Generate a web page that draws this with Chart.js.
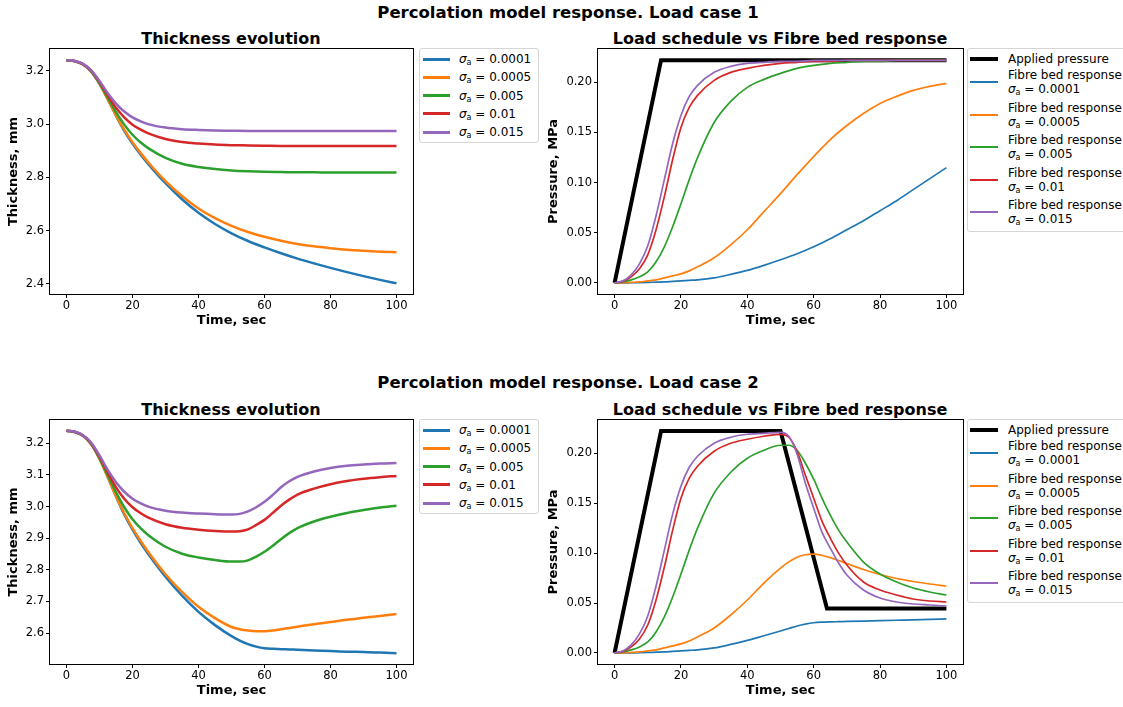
<!DOCTYPE html>
<html>
<head>
<meta charset="utf-8">
<script src="https://cdn.jsdelivr.net/npm/chart.js@4.4.1/dist/chart.umd.min.js"></script>
<style>
  html, body { margin: 0; padding: 0; background: #fff; overflow: hidden; }
  #page { position: relative; width: 1123px; height: 707px; overflow: hidden; font-family: "DejaVu Sans", sans-serif; color: #000; }
  canvas { position: absolute; }
  .suptitle, .title { position: absolute; font-weight: bold; white-space: nowrap; transform: translateX(-50%); line-height: 20px; }
  .suptitle { font-size: 16.5px; }
  .title { font-size: 16px; }
  .legend { position: absolute; background: #fff; border: 1px solid #d6d6d6; border-radius: 3px; box-sizing: border-box; }
  .entry { position: absolute; font-size: 12px; line-height: 14px; white-space: nowrap; }
  .handle { position: absolute; }
  sub { font-size: 8px; vertical-align: -2px; line-height: 0; }
</style>
</head>
<body>
<div id="page">
  <div class="suptitle" style="left:568px; top:3px;">Percolation model response. Load case 1</div>
  <div class="title" style="left:231px; top:29px;">Thickness evolution</div>
  <div class="title" style="left:780px; top:29px;">Load schedule vs Fibre bed response</div>
  <canvas id="thick1" width="415" height="293" style="left:0px; top:39px;"></canvas>
  <canvas id="load1" width="425" height="293" style="left:540px; top:39px;"></canvas>

  <div class="suptitle" style="left:568px; top:373px;">Percolation model response. Load case 2</div>
  <div class="title" style="left:231px; top:400px;">Thickness evolution</div>
  <div class="title" style="left:780px; top:400px;">Load schedule vs Fibre bed response</div>
  <canvas id="thick2" width="415" height="292" style="left:0px; top:410px;"></canvas>
  <canvas id="load2" width="425" height="292" style="left:540px; top:410px;"></canvas>
</div>
<script>
// Series labels and colours
const sigmaValues = ['0.0001', '0.0005', '0.005', '0.01', '0.015'];
const seriesColors = ['#1f77b4', '#ff7f0e', '#2ca02c', '#d62728', '#9467bd'];
const timeTicks = [0, 20, 40, 60, 80, 100];
const thickTicks1 = [2.4, 2.6, 2.8, 3.0, 3.2];
const thickTicks2 = [2.6, 2.7, 2.8, 2.9, 3.0, 3.1, 3.2];
const pressureTicks = [0, 0.05, 0.10, 0.15, 0.20];

// Load case 1
const times1 = [0, 2.5, 5, 7.5, 10, 12.5, 15, 17.5, 20, 22.5, 25, 30, 35, 40, 45, 50, 55, 60, 65, 70, 75, 80, 85, 90, 95, 100];
const thick1_0001 = [3.24, 3.236, 3.224, 3.197, 3.152, 3.094, 3.032, 2.975, 2.927, 2.885, 2.847, 2.778, 2.718, 2.667, 2.625, 2.59, 2.561, 2.537, 2.515, 2.495, 2.477, 2.46, 2.444, 2.429, 2.415, 2.402];
const thick1_0005 = [3.24, 3.236, 3.224, 3.197, 3.151, 3.093, 3.033, 2.979, 2.932, 2.891, 2.853, 2.786, 2.73, 2.683, 2.647, 2.618, 2.595, 2.577, 2.562, 2.55, 2.541, 2.534, 2.528, 2.524, 2.521, 2.519];
const thick1_005 = [3.24, 3.236, 3.225, 3.198, 3.153, 3.099, 3.045, 2.998, 2.96, 2.931, 2.908, 2.873, 2.851, 2.839, 2.831, 2.826, 2.823, 2.821, 2.82, 2.819, 2.819, 2.818, 2.818, 2.818, 2.818, 2.818];
const thick1_01 = [3.24, 3.237, 3.225, 3.2, 3.158, 3.108, 3.061, 3.025, 2.998, 2.979, 2.964, 2.944, 2.933, 2.927, 2.923, 2.921, 2.92, 2.919, 2.918, 2.918, 2.918, 2.918, 2.918, 2.918, 2.918, 2.918];
const thick1_015 = [3.24, 3.237, 3.226, 3.202, 3.162, 3.116, 3.077, 3.047, 3.025, 3.01, 2.999, 2.987, 2.981, 2.978, 2.976, 2.975, 2.974, 2.974, 2.974, 2.974, 2.974, 2.974, 2.974, 2.974, 2.974, 2.974];

const appliedTime1 = [0, 14, 100];
const applied1 = [0, 0.2222, 0.2222];
const resp1_0001 = [0, 0, 0.0001, 0.0002, 0.0004, 0.0007, 0.001, 0.0015, 0.002, 0.0025, 0.003, 0.005, 0.0085, 0.0125, 0.0175, 0.023, 0.029, 0.036, 0.044, 0.053, 0.062, 0.072, 0.082, 0.093, 0.104, 0.115];
const resp1_0005 = [0, 0.0001, 0.0005, 0.001, 0.002, 0.003, 0.005, 0.007, 0.009, 0.012, 0.016, 0.025, 0.038, 0.053, 0.071, 0.089, 0.108, 0.126, 0.143, 0.157, 0.169, 0.179, 0.186, 0.192, 0.196, 0.199];
const resp1_005 = [0, 0.001, 0.003, 0.006, 0.011, 0.021, 0.036, 0.056, 0.079, 0.103, 0.125, 0.16, 0.181, 0.195, 0.203, 0.209, 0.214, 0.217, 0.219, 0.22, 0.221, 0.221, 0.222, 0.222, 0.222, 0.222];
const resp1_01 = [0, 0.0015, 0.006, 0.014, 0.028, 0.053, 0.086, 0.123, 0.155, 0.175, 0.187, 0.202, 0.21, 0.214, 0.217, 0.219, 0.22, 0.221, 0.221, 0.222, 0.222, 0.222, 0.222, 0.222, 0.222, 0.222];
const resp1_015 = [0, 0.002, 0.008, 0.019, 0.037, 0.067, 0.103, 0.139, 0.167, 0.186, 0.197, 0.21, 0.216, 0.219, 0.22, 0.221, 0.221, 0.222, 0.222, 0.222, 0.222, 0.222, 0.222, 0.222, 0.222, 0.222];

// Load case 2
const times2 = [0, 2.5, 5, 7.5, 10, 12.5, 15, 17.5, 20, 22.5, 25, 30, 35, 40, 45, 50, 52.5, 55, 57.5, 60, 62.5, 65, 67.5, 70, 75, 80, 85, 90, 95, 100];
const thick2_0001 = [3.24, 3.236, 3.224, 3.197, 3.152, 3.094, 3.032, 2.975, 2.927, 2.885, 2.847, 2.778, 2.718, 2.667, 2.625, 2.59, 2.576, 2.565, 2.557, 2.552, 2.55, 2.549, 2.548, 2.547, 2.545, 2.543, 2.541, 2.54, 2.538, 2.536];
const thick2_0005 = [3.24, 3.236, 3.224, 3.197, 3.151, 3.093, 3.033, 2.979, 2.932, 2.891, 2.853, 2.786, 2.73, 2.683, 2.647, 2.619, 2.612, 2.608, 2.606, 2.606, 2.608, 2.612, 2.616, 2.62, 2.628, 2.635, 2.642, 2.648, 2.654, 2.66];
const thick2_005 = [3.24, 3.236, 3.225, 3.198, 3.153, 3.099, 3.045, 2.998, 2.96, 2.931, 2.908, 2.873, 2.851, 2.839, 2.831, 2.826, 2.826, 2.83, 2.842, 2.857, 2.876, 2.897, 2.916, 2.932, 2.953, 2.968, 2.98, 2.989, 2.997, 3.003];
const thick2_01 = [3.24, 3.237, 3.225, 3.2, 3.158, 3.108, 3.061, 3.025, 2.998, 2.979, 2.964, 2.944, 2.933, 2.927, 2.923, 2.921, 2.922, 2.928, 2.942, 2.958, 2.98, 3.003, 3.022, 3.038, 3.057, 3.071, 3.081, 3.088, 3.093, 3.097];
const thick2_015 = [3.24, 3.237, 3.226, 3.202, 3.162, 3.116, 3.077, 3.047, 3.025, 3.01, 2.999, 2.987, 2.981, 2.978, 2.976, 2.975, 2.977, 2.985, 2.998, 3.015, 3.037, 3.061, 3.08, 3.094, 3.111, 3.122, 3.129, 3.133, 3.136, 3.138];

const appliedTime2 = [0, 14, 50, 64, 100];
const applied2 = [0, 0.2222, 0.2222, 0.0444, 0.0444];
const resp2_0001 = [0, 0, 0.0001, 0.0002, 0.0004, 0.0007, 0.001, 0.0015, 0.002, 0.0025, 0.003, 0.005, 0.0085, 0.0125, 0.0172, 0.022, 0.0245, 0.027, 0.0289, 0.0302, 0.0308, 0.0311, 0.0313, 0.0315, 0.0319, 0.0323, 0.0327, 0.0331, 0.0336, 0.034];
const resp2_0005 = [0, 0.0001, 0.0005, 0.001, 0.002, 0.003, 0.005, 0.007, 0.009, 0.012, 0.016, 0.025, 0.038, 0.053, 0.07, 0.085, 0.0912, 0.0958, 0.0983, 0.099, 0.0978, 0.0955, 0.0925, 0.0895, 0.0835, 0.0785, 0.0745, 0.0715, 0.069, 0.067];
const resp2_005 = [0, 0.001, 0.003, 0.006, 0.011, 0.021, 0.036, 0.056, 0.079, 0.103, 0.125, 0.16, 0.181, 0.195, 0.203, 0.208, 0.208, 0.203, 0.19, 0.174, 0.155, 0.138, 0.123, 0.111, 0.091, 0.079, 0.071, 0.065, 0.061, 0.058];
const resp2_01 = [0, 0.0015, 0.006, 0.014, 0.028, 0.053, 0.086, 0.123, 0.155, 0.175, 0.187, 0.202, 0.21, 0.214, 0.217, 0.219, 0.216, 0.202, 0.178, 0.155, 0.132, 0.115, 0.1, 0.088, 0.071, 0.063, 0.058, 0.054, 0.052, 0.051];
const resp2_015 = [0, 0.002, 0.008, 0.019, 0.037, 0.067, 0.103, 0.139, 0.167, 0.186, 0.197, 0.21, 0.216, 0.219, 0.22, 0.221, 0.217, 0.199, 0.17, 0.145, 0.121, 0.105, 0.09, 0.078, 0.063, 0.055, 0.051, 0.049, 0.048, 0.047];

const FONT = 'DejaVu Sans';

function toPoints(xs, ys) {
  return xs.map((x, i) => ({ x: x, y: ys[i] }));
}

// draws the four spines round the plot area
const framePlugin = {
  id: 'frame',
  afterDatasetsDraw(chart) {
    const a = chart.chartArea;
    const c = chart.ctx;
    c.save();
    c.strokeStyle = '#000';
    c.lineWidth = 1;
    const l = Math.round(a.left) - 0.5, t = Math.round(a.top) - 0.5;
    c.strokeRect(l, t, Math.round(a.right) - Math.round(a.left) + 1, Math.round(a.bottom) - Math.round(a.top) + 1);
    c.restore();
  }
};

function seriesDatasets(times, seriesList, width) {
  return seriesList.map((vals, i) => ({
    data: toPoints(times, vals),
    borderColor: seriesColors[i],
    borderWidth: width,
    pointRadius: 0,
    fill: false,
    cubicInterpolationMode: 'monotone',
    order: seriesList.length - i
  }));
}

function makeChart(id, datasets, yMin, yMax, yTicks, yDigits, yTitle, yWidth) {
  const ctx = document.getElementById(id).getContext('2d');
  return new Chart(ctx, {
    type: 'line',
    data: { datasets: datasets },
    options: {
      responsive: false,
      animation: false,
      devicePixelRatio: 1,
      layout: { padding: { top: 10, right: 2, left: 0, bottom: 0 } },
      plugins: {
        legend: { display: false },
        tooltip: { enabled: false }
      },
      scales: {
        x: {
          type: 'linear',
          min: -5,
          max: 105,
          afterBuildTicks: s => { s.ticks = timeTicks.map(v => ({ value: v })); },
          afterFit: s => { s.height = 38; },
          grid: { display: true, drawOnChartArea: false, drawTicks: true, tickLength: 4, color: '#000', lineWidth: 1 },
          border: { display: false },
          ticks: { color: '#000', font: { family: FONT, size: 11.5 }, padding: 1, maxRotation: 0, callback: v => String(v) },
          title: { display: true, text: 'Time, sec', color: '#000', font: { family: FONT, size: 13, weight: 'bold' }, padding: { top: 0, bottom: 4 } }
        },
        y: {
          type: 'linear',
          min: yMin,
          max: yMax,
          afterBuildTicks: s => { s.ticks = yTicks.map(v => ({ value: v })); },
          afterFit: s => { s.width = yWidth; },
          grid: { display: true, drawOnChartArea: false, drawTicks: true, tickLength: 4, color: '#000', lineWidth: 1 },
          border: { display: false },
          ticks: { color: '#000', font: { family: FONT, size: 11.5 }, padding: 2, callback: v => v.toFixed(yDigits) },
          title: { display: true, text: yTitle, color: '#000', font: { family: FONT, size: 13, weight: 'bold' }, padding: { top: 6, bottom: 0 } }
        }
      }
    },
    plugins: [framePlugin]
  });
}

function appliedDataset(times, vals) {
  return {
    data: toPoints(times, vals),
    borderColor: '#000',
    borderWidth: 4,
    pointRadius: 0,
    fill: false,
    tension: 0,
    borderJoinStyle: 'miter',
    order: 10
  };
}

// Thickness charts
makeChart('thick1', seriesDatasets(times1, [thick1_0001, thick1_0005, thick1_005, thick1_01, thick1_015], 2.5),
  2.362, 3.282, thickTicks1, 1, 'Thickness, mm', 50);
makeChart('thick2', seriesDatasets(times2, [thick2_0001, thick2_0005, thick2_005, thick2_01, thick2_015], 2.5),
  2.502, 3.274, thickTicks2, 1, 'Thickness, mm', 50);

// Load charts
makeChart('load1', [appliedDataset(appliedTime1, applied1)].concat(
  seriesDatasets(times1, [resp1_0001, resp1_0005, resp1_005, resp1_01, resp1_015], 1.7)),
  -0.0111, 0.2333, pressureTicks, 2, 'Pressure, MPa', 58);
makeChart('load2', [appliedDataset(appliedTime2, applied2)].concat(
  seriesDatasets(times2, [resp2_0001, resp2_0005, resp2_005, resp2_01, resp2_015], 1.7)),
  -0.0111, 0.2333, pressureTicks, 2, 'Pressure, MPa', 58);

// HTML legends
const page = document.getElementById('page');
const sigmaHtml = v => '<i>σ</i><sub>a</sub> = ' + v;

function addEntry(box, top, color, width, lines, handleLeft, handleLen, textLeft, handleCenter) {
  const h = document.createElement('div');
  h.className = 'handle';
  h.style.left = handleLeft + 'px';
  h.style.width = handleLen + 'px';
  h.style.height = width + 'px';
  h.style.top = Math.round(handleCenter - width / 2) + 'px';
  h.style.background = color;
  box.appendChild(h);
  lines.forEach((txt, j) => {
    const e = document.createElement('div');
    e.className = 'entry';
    e.style.left = textLeft + 'px';
    e.style.top = (top + j * 14 - 7) + 'px';
    e.innerHTML = txt;
    box.appendChild(e);
  });
}

function thicknessLegend(left, top) {
  const box = document.createElement('div');
  box.className = 'legend';
  Object.assign(box.style, { left: left + 'px', top: top + 'px', width: '120px', height: '95px' });
  sigmaValues.forEach((v, i) => {
    const c = 10 + 18.3 * i;
    addEntry(box, c, seriesColors[i], 3, [sigmaHtml(v)], 3, 27, 39, c);
  });
  page.appendChild(box);
}

function loadLegend(left, top) {
  const box = document.createElement('div');
  box.className = 'legend';
  Object.assign(box.style, { left: left + 'px', top: top + 'px', width: '200px', height: '184px' });
  addEntry(box, 10, '#000', 4, ['Applied pressure'], 2, 28, 40, 10);
  sigmaValues.forEach((v, i) => {
    const c = 26 + 32.5 * i;
    addEntry(box, c, seriesColors[i], 2, ['Fibre bed response', sigmaHtml(v)], 2, 28, 40, c + 7);
  });
  page.appendChild(box);
}

thicknessLegend(419, 48);
loadLegend(967, 48);
thicknessLegend(419, 419);
loadLegend(967, 419);
</script>
</body>
</html>
